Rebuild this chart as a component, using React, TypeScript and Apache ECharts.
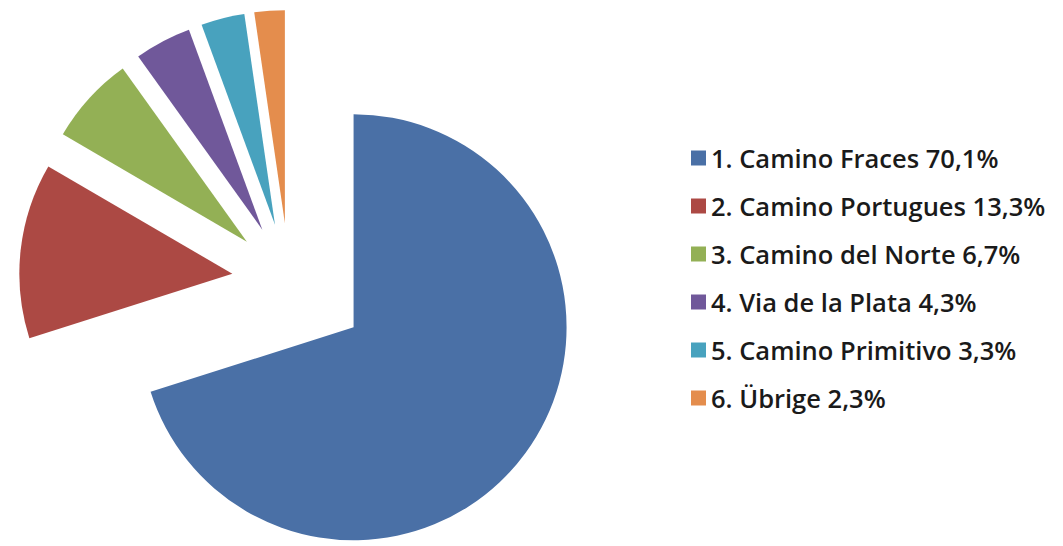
import React, { useEffect, useRef } from "react";
import * as echarts from "echarts";

const categories = [
  "Camino Fraces",
  "Camino Portugues",
  "Camino del Norte",
  "Via de la Plata",
  "Camino Primitivo",
  "Übrige",
];
const values = [70.1, 13.3, 6.7, 4.3, 3.3, 2.3];
const colors = ["#4A70A6", "#AC4944", "#93B055", "#70589A", "#48A2BE", "#E48D4D"];

const labelFor = (i: number) =>
  `${i + 1}. ${categories[i]} ${values[i].toFixed(1).replace(".", ",")}%`;

export default function App() {
  const ref = useRef<HTMLDivElement>(null);
  useEffect(() => {
    if (!ref.current) return;
    const chart = echarts.init(ref.current, undefined, { renderer: "svg" });
    const names = values.map((_, i) => labelFor(i));
    const makeData = (big: boolean) =>
      values.map((v, i) => {
        const mine = big ? i === 0 : i !== 0;
        return {
          name: names[i],
          value: v,
          selected: mine,
          itemStyle: { color: mine ? colors[i] : "rgba(0,0,0,0)" },
        };
      });
    const common = {
      type: "pie" as const,
      center: [289, 280],
      radius: 213,
      startAngle: 90,
      clockwise: true,
      selectedMode: "multiple" as const,
      label: { show: false },
      labelLine: { show: false },
      emphasis: { disabled: true },
      avoidLabelOverlap: false,
    };
    chart.setOption({
      animation: false,
      backgroundColor: "#ffffff",
      legend: {
        orient: "vertical",
        left: 686,
        top: 140,
        itemWidth: 15,
        itemHeight: 15,
        itemGap: 22,
        icon: "rect",
        selectedMode: false,
        textStyle: {
          fontFamily: "Open Sans",
          fontWeight: 600,
          fontSize: 25.5,
          lineHeight: 25,
          color: "#1a1a1a",
        },
        data: names.map((n, i) => ({ name: n, itemStyle: { color: colors[i] } })),
      },
      series: [
        { ...common, selectedOffset: 80, data: makeData(true) },
        { ...common, selectedOffset: 57, data: makeData(false) },
      ],
    });
    return () => chart.dispose();
  }, []);
  return (
    <div
      ref={ref}
      style={{ position: "fixed", left: 0, top: 0, width: 1063, height: 546, background: "#fff" }}
    />
  );
}
